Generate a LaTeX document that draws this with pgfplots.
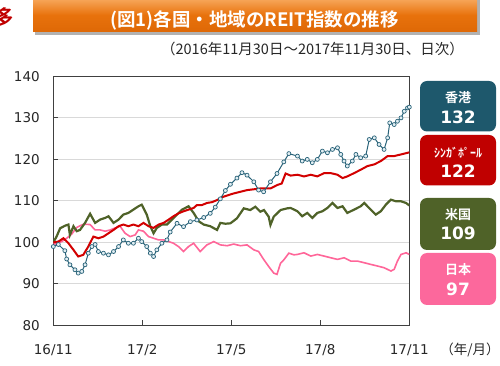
\documentclass[border=0pt]{standalone}
\usepackage{pgfplots}
\pgfplotsset{compat=1.18}
\usepackage{fontspec}
\setmainfont{DejaVu Sans}
\newfontfamily\jp{Noto Sans CJK JP}[BoldFont={Noto Sans CJK JP Bold}]
\definecolor{HKline}{RGB}{40,98,120}
\definecolor{HKfill}{RGB}{225,238,243}
\definecolor{HKbox}{RGB}{30,88,108}
\definecolor{SGline}{RGB}{210,0,0}
\definecolor{SGbox}{RGB}{192,0,0}
\definecolor{USline}{RGB}{79,98,40}
\definecolor{USbox}{RGB}{79,98,40}
\definecolor{JPline}{RGB}{255,102,153}
\definecolor{JPbox}{RGB}{252,104,156}
\definecolor{TOrange}{RGB}{232,114,12}
\definecolor{TOrangeL}{RGB}{248,170,95}
\definecolor{TOrangeD}{RGB}{222,104,6}
\begin{document}
\begin{tikzpicture}[x=1pt,y=1pt]
\useasboundingbox (0,0) rectangle (500,366);
% title bar
\fill[gray!60] (35,331) rectangle (480,366);
\shade[top color=TOrangeL, bottom color=TOrangeD, middle color=TOrange] (33,334) rectangle (477,368);
\node[text=white, font=\jp\bfseries\fontsize{18.5}{19}\selectfont] at (254.5,345.5) {(図1)各国・地域のREIT指数の推移};
\node[text=SGbox, font=\jp\bfseries\fontsize{21}{21}\selectfont, xslant=0.2] at (4,349) {多};
\node[text=black!85, font=\jp\fontsize{14.5}{15}\selectfont] at (312.5,316.7) {（2016年11月30日～2017年11月30日、日次）};
\begin{axis}[
  at={(53.3pt,40.6pt)}, anchor=south west,
  scale only axis, width=356pt, height=249pt,
  xmin=0, xmax=12, ymin=80, ymax=140,
  xtick={0,3,6,9,12}, xticklabels={16/11,17/2,17/5,17/8,17/11},
  ytick={80,90,100,110,120,130,140},
  tick align=inside, xtick pos=bottom, ytick pos=left,
  major tick length=5pt,
  ymajorgrids, grid style={draw=black!15, line width=1pt},
  axis line style={draw=black!75, line width=1pt},
  tick style={draw=black!75, line width=0.8pt},
  ticklabel style={font=\fontsize{13.5}{14}\selectfont, text=black!85},
  yticklabel style={xshift=-10pt},
  xticklabel style={yshift=-15.5pt},
  /pgf/number format/assume math mode=true,
]
\addplot[color=JPline, line width=1.6pt] coordinates {
(0,100) (0.06,99.6) (0.28,100.2) (0.45,101) (0.62,102) (0.79,103.6) (1.02,104.4) (1.24,104.3) (1.41,103) (1.58,103) (1.75,102.7) (1.92,103) (2.09,103.5) (2.25,103.9) (2.42,102.2) (2.59,101.4) (2.76,101.8) (2.87,103) (3.04,102.7) (3.21,101.4) (3.38,101) (3.55,100.6) (3.72,100.6) (3.89,100.2) (4.05,99.8) (4.22,99) (4.39,97.8) (4.56,99) (4.73,99.8) (4.95,97.8) (5.18,99.4) (5.41,100.2) (5.63,99.4) (5.86,99.2) (6.08,99.6) (6.31,99.2) (6.53,99.4) (6.76,98.2) (6.92,97.8) (7.10,95.8) (7.26,94.2) (7.43,92.6) (7.54,92.3) (7.66,95) (7.77,95.8) (7.94,97.4) (8.11,97) (8.23,97.1) (8.45,97.5) (8.68,96.7) (8.90,97.1) (9.13,96.7) (9.35,96.3) (9.58,95.9) (9.80,96.3) (10.03,95.5) (10.25,95.5) (10.48,95.1) (10.70,94.7) (10.93,94.3) (11.15,93.9) (11.38,93.1) (11.49,93.5) (11.60,95.5) (11.72,97.1) (11.89,97.5) (12,97.1)
};
\addplot[color=USline, line width=2.2pt] coordinates {
(0,100) (0.11,101.4) (0.23,103.4) (0.39,104) (0.51,104.3) (0.56,101.8) (0.68,103.9) (0.79,102.7) (0.90,103) (1.07,104.7) (1.24,106.9) (1.41,104.7) (1.58,105.5) (1.75,105.9) (1.86,106.3) (2.03,104.7) (2.20,105.5) (2.36,106.7) (2.53,107.1) (2.70,107.9) (2.87,108.7) (2.98,109.1) (3.15,106.7) (3.27,103.9) (3.38,102.2) (3.49,103.5) (3.66,104.3) (3.83,104.3) (4.0,105.5) (4.17,106.7) (4.34,107.9) (4.56,108.7) (4.73,107.1) (4.90,105.1) (5.07,104.3) (5.29,103.9) (5.52,103) (5.63,104.7) (5.80,104.5) (5.97,104.6) (6.19,105.8) (6.42,108.2) (6.64,107.8) (6.81,108.6) (6.98,107.4) (7.10,107.8) (7.26,106.2) (7.32,104.2) (7.43,106.2) (7.66,107.8) (7.88,108.2) (8.0,108.3) (8.23,107.5) (8.39,106.3) (8.56,107.1) (8.73,105.9) (8.90,107.1) (9.07,107.5) (9.24,108.3) (9.41,109.5) (9.58,108.3) (9.75,108.7) (9.91,107.1) (10.14,107.9) (10.36,108.7) (10.48,109.5) (10.70,107.9) (10.87,106.7) (11.04,107.5) (11.21,109.1) (11.38,110.3) (11.55,109.9) (11.72,109.9) (11.89,109.5) (12,108.9)
};
\addplot[color=SGline, line width=2pt] coordinates {
(0,100) (0.17,100.2) (0.34,101) (0.51,99.8) (0.68,98.2) (0.84,96.6) (1.01,97) (1.18,99) (1.35,101.4) (1.52,101) (1.69,101.4) (1.86,102.2) (2.03,103) (2.20,103.9) (2.36,104.3) (2.53,103.9) (2.70,104.3) (2.87,103.9) (3.04,104.7) (3.21,103.9) (3.38,103.5) (3.55,104.3) (3.72,104.7) (3.89,105.5) (4.05,106.3) (4.22,107) (4.39,107.5) (4.56,107.9) (4.73,108.3) (4.84,109) (5.01,109) (5.18,109.5) (5.35,109.7) (5.52,110.2) (5.69,110.9) (5.86,111.3) (6.08,111.8) (6.31,112.2) (6.53,112.6) (6.76,112.8) (6.98,113) (7.32,113) (7.54,113.8) (7.70,114.2) (7.83,116.6) (8.0,116.1) (8.23,116.3) (8.45,115.9) (8.68,116.3) (8.90,115.9) (9.13,116.7) (9.35,116.7) (9.58,116.3) (9.75,115.5) (9.91,115.9) (10.14,116.7) (10.36,117.5) (10.59,118.4) (10.82,118.8) (11.04,119.6) (11.27,120.8) (11.49,120.8) (11.72,121.2) (12,121.7)
};
\addplot[color=HKline, line width=1pt, mark=*, mark size=2pt, mark options={fill=HKfill, draw=HKline, line width=0.7pt}] coordinates {
(0,99.0) (0.17,99.5) (0.39,98.0) (0.45,96.0) (0.56,94.6) (0.73,93.4) (0.84,92.6) (0.96,93.0) (1.07,94.6) (1.18,97.4) (1.30,99.0) (1.41,99.5) (1.52,97.8) (1.69,97.4) (1.86,97.0) (2.03,97.8) (2.20,99.0) (2.36,100.6) (2.53,99.8) (2.70,99.8) (2.87,101.0) (2.98,100.2) (3.15,99.0) (3.27,97.4) (3.38,96.6) (3.49,98.2) (3.66,99.8) (3.83,100.6) (3.94,102.5) (4.17,104.6) (4.39,103.8) (4.62,105.0) (4.84,105.4) (5.07,106.0) (5.29,107.0) (5.46,108.5) (5.63,110.5) (5.80,112.5) (5.97,114.0) (6.19,115.5) (6.36,116.8) (6.53,116.2) (6.76,114.6) (6.92,112.6) (7.09,112.2) (7.32,114.6) (7.54,116.6) (7.77,119.4) (7.94,121.4) (8.23,120.8) (8.39,119.6) (8.56,120.0) (8.73,119.2) (8.90,120.0) (9.07,122.0) (9.24,121.6) (9.41,122.4) (9.58,122.8) (9.69,121.2) (9.80,119.6) (9.91,118.4) (10.08,119.6) (10.20,121.2) (10.36,120.4) (10.53,120.8) (10.65,124.8) (10.82,125.2) (10.98,123.6) (11.15,122.4) (11.27,125.2) (11.34,128.8) (11.49,128.4) (11.60,129.2) (11.72,130.0) (11.83,131.6) (11.94,132.4) (12,132.6)
};
\end{axis}
\node[text=black!85, font=\jp\fontsize{13.5}{14}\selectfont] at (470,16) {（年/月）};
% value boxes
\fill[HKbox, rounded corners=7pt] (420,234.5) rectangle (496,285);
\node[text=white, font=\jp\bfseries\fontsize{13}{13}\selectfont] at (458,268) {香港};
\node[text=white, font=\bfseries\fontsize{17}{17}\selectfont] at (458,249) {132};
\fill[SGbox, rounded corners=7pt] (420,180.5) rectangle (496,231);
\node[text=white, font=\jp\bfseries\fontsize{12}{12}\selectfont] at (458,213) {ｼﾝｶﾞﾎﾟｰﾙ};
\node[text=white, font=\bfseries\fontsize{17}{17}\selectfont] at (458,194.5) {122};
\fill[USbox, rounded corners=7pt] (420,116) rectangle (496,168);
\node[text=white, font=\jp\bfseries\fontsize{13}{13}\selectfont] at (458,151) {米国};
\node[text=white, font=\bfseries\fontsize{17}{17}\selectfont] at (458,133) {109};
\fill[JPbox, rounded corners=7pt] (420,61) rectangle (496,113);
\node[text=white, font=\jp\bfseries\fontsize{13}{13}\selectfont] at (458,96) {日本};
\node[text=white, font=\bfseries\fontsize{17}{17}\selectfont] at (458,77) {97};
\end{tikzpicture}
\end{document}
